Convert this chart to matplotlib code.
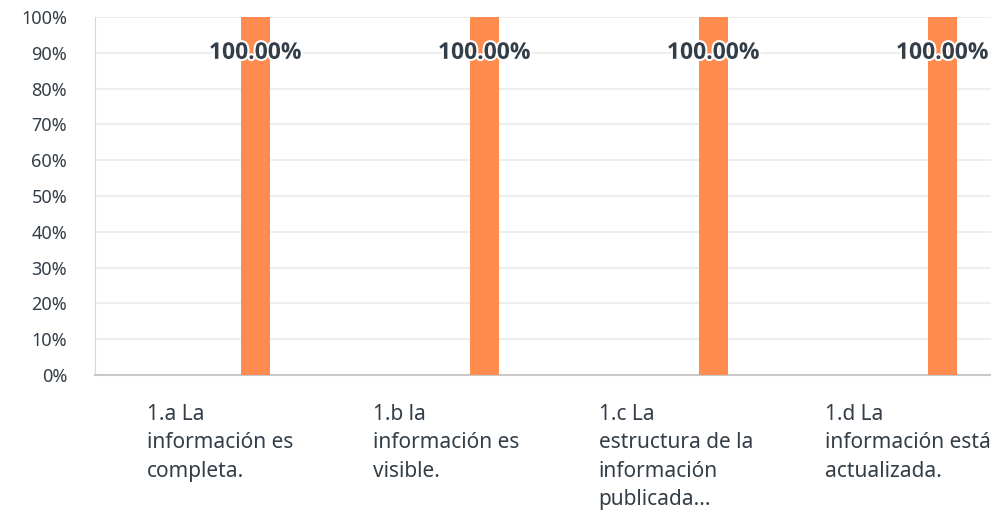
import matplotlib
matplotlib.use("Agg")
import matplotlib.pyplot as plt
import matplotlib.patheffects as pe
import numpy as np

# data
categories = ["1.a La\ninformación es\ncompleta.",
              "1.b la\ninformación es\nvisible.",
              "1.c La\nestructura de la\ninformación\npublicada...",
              "1.d La\ninformación está\nactualizada."]
values = [100.0, 100.0, 100.0, 100.0]
yticks = [0, 10, 20, 30, 40, 50, 60, 70, 80, 90, 100]

plt.rcParams['font.family'] = ['Noto Sans', 'DejaVu Sans']

fig = plt.figure(figsize=(9.91, 5.13), dpi=100)
ax = fig.add_axes([95 / 991, 1 - 375 / 513, 1 - 95 / 991, (375 - 17) / 513])

x = np.arange(len(categories))
bar_off = 0.2
ax.bar(x + bar_off, values, width=0.125, color="#ff8b4f", zorder=3)

# value labels sit on the 90% line
for xi, v in zip(x, values):
    ax.text(xi + bar_off, 90, "{:.2f}%".format(v), ha="center", va="center",
            fontsize=16.5, fontweight="bold", family=["Open Sans", "DejaVu Sans"],
            color="#333e48", zorder=4,
            path_effects=[pe.withStroke(linewidth=3, foreground="white")])

ax.set_ylim(0, 100)
ax.set_xlim(-0.5, (991 - 95) / 229 - 0.5)
ax.set_yticks(yticks)
ax.set_yticklabels(["{}%".format(t) for t in yticks])
ax.tick_params(axis="y", length=0, pad=20, labelsize=13, labelcolor="#333e48")

# label columns are a bit narrower than the bar spacing
ax.set_xticks(x * 0.987 - 0.275)
ax.set_xticklabels(categories, ha="left", va="top", linespacing=1.45)
ax.tick_params(axis="x", length=0, pad=21, labelsize=15, labelcolor="#333e48")

ax.grid(axis="y", color="#ebebeb", linewidth=1.2, zorder=0)
ax.set_axisbelow(True)
for s in ("top", "right"):
    ax.spines[s].set_visible(False)
ax.spines["left"].set_color("#d6d6d6")
ax.spines["bottom"].set_color("#c8c8c8")
ax.spines["bottom"].set_linewidth(1.5)

fig.savefig("out.png", dpi=100)
